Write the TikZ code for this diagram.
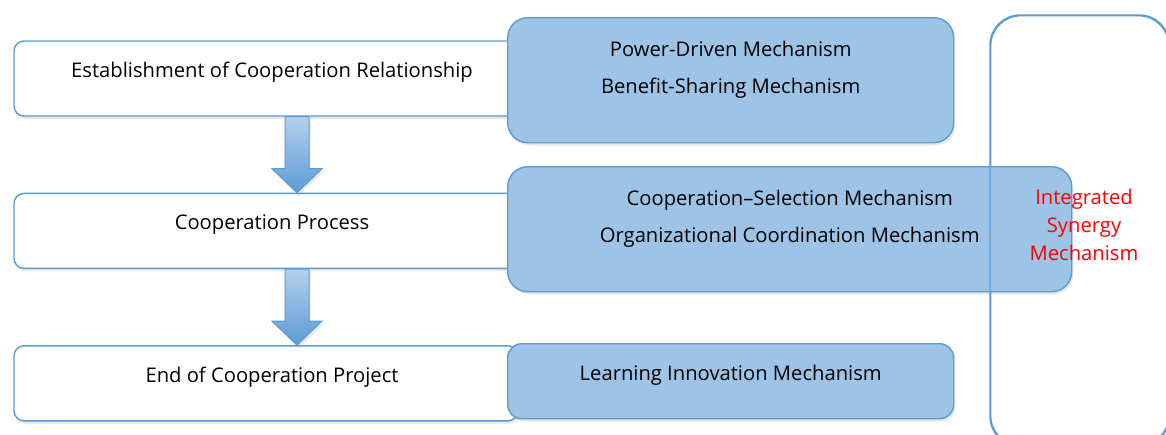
\documentclass[tikz,border=0pt]{standalone}
\usepackage{fontspec}
\setmainfont{Open Sans}
\usetikzlibrary{positioning,calc,shadows}
\definecolor{stageline}{HTML}{5B9BD5}
\definecolor{mechfill}{HTML}{9DC3E6}
\definecolor{arrowtop}{HTML}{B4D0EC}

\begin{document}
\begin{tikzpicture}
[
x=0.5pt, y=-0.5pt,
font=\fontsize{10.1}{18.5}\selectfont,
node distance = 38pt,
boxshadow/.style={drop shadow={shadow xshift=0.8pt, shadow yshift=-1.4pt, opacity=0.18}},
stage/.style={rectangle, rounded corners=5pt, draw=stageline, line width=0.7pt, fill=white, minimum width=252pt, minimum height=37.5pt, text depth=9pt, boxshadow},
mech/.style={rectangle, rounded corners=10pt, draw=stageline, line width=0.7pt, fill=mechfill, anchor=north west, align=center, minimum width=223pt, minimum height=62.5pt, boxshadow},
synbox/.style={rectangle, rounded corners=15pt, draw=stageline, line width=0.7pt, fill=white, anchor=north west, minimum width=89pt, minimum height=215pt, boxshadow},
flowarrow/.style={top color=arrowtop, bottom color=stageline, draw=stageline, line width=0.5pt, boxshadow},
]
\useasboundingbox (0,0) rectangle (1166,434);

\node [stage] (establish) at (266,78.5) {\hspace*{6pt}Establishment of Cooperation Relationship};
\node [stage, below = of establish] (process) {\hspace*{6pt}Cooperation Process};
\node [stage, below = of process] (endproj) {\hspace*{6pt}End of Cooperation Project};

\node [synbox] (synergy) at (990,15) {};

\node [mech, text depth=13pt] (mechA) at (507,17) {Power-Driven Mechanism\\Benefit-Sharing Mechanism};
\node [mech, text depth=13pt, minimum width=282pt] (mechB) at (507,166) {Cooperation--Selection Mechanism\\Organizational Coordination Mechanism};
\node [mech, text depth=8.5pt, rounded corners=7pt, minimum height=37.5pt] (mechC) at (507,343) {Learning Innovation Mechanism};

% outline of the synergy box stays visible across the middle mechanism
\draw [stageline, line width=0.7pt, rounded corners=15pt] (synergy.north west) rectangle (synergy.south east);

\node [red, align=center, font=\fontsize{10.1}{14}\selectfont] (synlabel) at (1084,225) {Integrated\\Synergy\\Mechanism};

\coordinate (axis) at (297,0);
\foreach \from/\to in {establish/process, process/endproj}
  \shadedraw [flowarrow] ($(\from.south -| axis)+(-12,0)$) -- ($(\from.south -| axis)+(12,0)$)
    -- ($(\to.north -| axis)+(12,-24)$) -- ($(\to.north -| axis)+(25,-24)$) -- (\to.north -| axis)
    -- ($(\to.north -| axis)+(-25,-24)$) -- ($(\to.north -| axis)+(-12,-24)$) -- cycle;
\end{tikzpicture}
\end{document}
